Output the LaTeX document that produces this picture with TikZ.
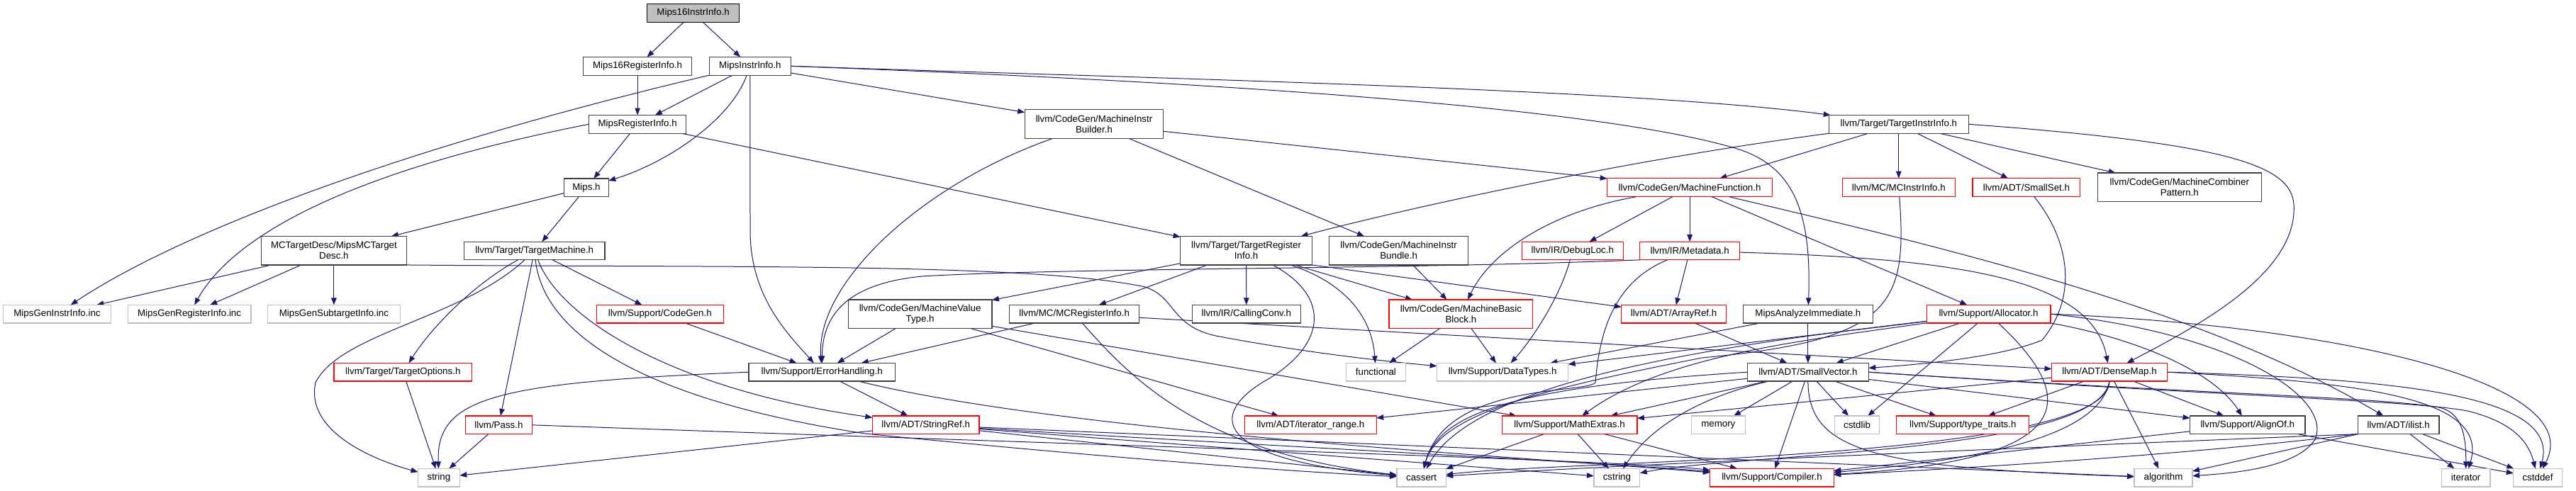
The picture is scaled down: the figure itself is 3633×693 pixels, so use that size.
\documentclass[tikz,border=0pt]{standalone}
\usepackage{fontspec}
\setmainfont{Liberation Sans}
\usetikzlibrary{arrows.meta}
\pgfdeclarelayer{edgelayer}
\pgfsetlayers{edgelayer,main}
\definecolor{edgec}{HTML}{191970}
\definecolor{greyb}{HTML}{BFBFBF}
\definecolor{redb}{HTML}{FF0000}
\definecolor{darkb}{HTML}{404040}
\newcommand{\nodefont}{\fontsize{13.33pt}{15pt}\selectfont}
\tikzset{
  nbox/.style={rectangle, draw=darkb, line width=1.2pt, fill=white, inner sep=0pt, outer sep=0pt,
     minimum height=25.6pt, font=\nodefont, align=center},
  rbox/.style={nbox, draw=redb},
  gbox/.style={nbox, draw=greyb},
  twoline/.style={minimum height=40.5pt},
  dep/.style={draw=edgec, line width=1pt, line join=round, -{Triangle[length=10pt,width=7.5pt]}}
}
\begin{document}
\begin{tikzpicture}[x=1pt,y=-1pt]
\useasboundingbox (0,0) rectangle (3633,693);
% ---------- nodes ----------
\node[nbox,fill=greyb,draw=black,minimum width=130.5pt] (root) at (977.6,18.5) {Mips16InstrInfo.h};
\node[nbox,minimum width=153pt] (m16ri) at (899.1,93.3) {Mips16RegisterInfo.h};
\node[nbox,minimum width=114.7pt] (mii) at (1057.9,93.3) {MipsInstrInfo.h};
\node[nbox,minimum width=137pt] (mri) at (899.1,175.3) {MipsRegisterInfo.h};
\node[nbox,twoline,minimum width=195.7pt] (mib) at (1543,175) {llvm/CodeGen/MachineInstr\\Builder.h};
\node[nbox,minimum width=197.3pt] (tii) at (2677.8,175.3) {llvm/Target/TargetInstrInfo.h};
\node[nbox,minimum width=62.5pt] (mips) at (827,264.7) {Mips.h};
\node[rbox,minimum width=233pt] (mf) at (2383.1,264.5) {llvm/CodeGen/MachineFunction.h};
\node[rbox,minimum width=158.6pt] (mcii) at (2677.8,264.5) {llvm/MC/MCInstrInfo.h};
\node[rbox,minimum width=151.8pt] (sset) at (2857.9,264.5) {llvm/ADT/SmallSet.h};
\node[nbox,twoline,minimum width=231pt] (mcp) at (3073.8,264.3) {llvm/CodeGen/MachineCombiner\\Pattern.h};
\node[nbox,twoline,minimum width=204.8pt] (mcd) at (470.9,353.7) {MCTargetDesc/MipsMCTarget\\Desc.h};
\node[nbox,minimum width=198.5pt] (tm) at (753.8,354) {llvm/Target/TargetMachine.h};
\node[nbox,twoline,minimum width=186pt] (tri) at (1757.6,353.7) {llvm/Target/TargetRegister\\Info.h};
\node[nbox,twoline,minimum width=196.5pt] (mibun) at (1972.6,353.7) {llvm/CodeGen/MachineInstr\\Bundle.h};
\node[rbox,minimum width=142.7pt] (dl) at (2217.8,354) {llvm/IR/DebugLoc.h};
\node[rbox,minimum width=140.6pt] (md) at (2383.1,354) {llvm/IR/Metadata.h};
\node[gbox,minimum width=151.5pt] (geni) at (80.5,443.2) {MipsGenInstrInfo.inc};
\node[gbox,minimum width=173.6pt] (genr) at (267.1,443.2) {MipsGenRegisterInfo.inc};
\node[gbox,minimum width=186.6pt] (gens) at (470.9,443.2) {MipsGenSubtargetInfo.inc};
\node[rbox,minimum width=179pt] (cg) at (930.8,443.2) {llvm/Support/CodeGen.h};
\node[nbox,twoline,minimum width=202.6pt] (mvt) at (1297.6,443.2) {llvm/CodeGen/MachineValue\\Type.h};
\node[nbox,minimum width=182.7pt] (mcri) at (1515.2,443.2) {llvm/MC/MCRegisterInfo.h};
\node[nbox,minimum width=153.2pt] (cc) at (1757.8,443.2) {llvm/IR/CallingConv.h};
\node[rbox,twoline,minimum width=202.8pt] (mbb) at (2060.4,443.2) {llvm/CodeGen/MachineBasic\\Block.h};
\node[rbox,minimum width=147.7pt] (ar) at (2360.5,443.2) {llvm/ADT/ArrayRef.h};
\node[nbox,minimum width=182.7pt] (mai) at (2549.9,443.2) {MipsAnalyzeImmediate.h};
\node[rbox,minimum width=174.8pt] (alloc) at (2804.5,443.2) {llvm/Support/Allocator.h};
\node[rbox,minimum width=194.7pt] (to) at (568.3,525.2) {llvm/Target/TargetOptions.h};
\node[nbox,minimum width=206.6pt] (eh) at (1159.2,525.2) {llvm/Support/ErrorHandling.h};
\node[gbox,minimum width=83.8pt] (func) at (1940.4,525.2) {functional};
\node[gbox,minimum width=185pt] (dt) at (2119.1,525.2) {llvm/Support/DataTypes.h};
\node[nbox,minimum width=170.8pt] (sv) at (2549.9,525.2) {llvm/ADT/SmallVector.h};
\node[rbox,minimum width=163pt] (dm) at (2975,525.2) {llvm/ADT/DenseMap.h};
\node[rbox,minimum width=93.8pt] (pass) at (703.4,599.8) {llvm/Pass.h};
\node[rbox,minimum width=150.7pt] (sr) at (1305.7,599.8) {llvm/ADT/StringRef.h};
\node[rbox,minimum width=185.7pt] (ir) at (1848.4,599.8) {llvm/ADT/iterator\_range.h};
\node[rbox,minimum width=190.6pt] (mx) at (2213.6,599.8) {llvm/Support/MathExtras.h};
\node[gbox,minimum width=76.1pt] (mem) at (2423.3,599.8) {memory};
\node[gbox,minimum width=62.5pt] (cstdlib) at (2619,599.8) {cstdlib};
\node[rbox,minimum width=187pt] (tt) at (2768.3,599.8) {llvm/Support/type\_traits.h};
\node[nbox,minimum width=162.5pt] (ao) at (3169.8,599.8) {llvm/Support/AlignOf.h};
\node[nbox,minimum width=114.6pt] (il) at (3382.7,599.8) {llvm/ADT/ilist.h};
\node[gbox,minimum width=58.7pt] (str) at (618.9,674.2) {string};
\node[gbox,minimum width=69.2pt] (ca) at (2004.6,674.2) {cassert};
\node[gbox,minimum width=64.8pt] (cs) at (2280.4,674.2) {cstring};
\node[rbox,minimum width=174.3pt] (comp) at (2499,674.2) {llvm/Support/Compiler.h};
\node[gbox,minimum width=82pt] (alg) at (3051,674.2) {algorithm};
\node[gbox,minimum width=68.8pt] (iter) at (3477.6,674.2) {iterator};
\node[gbox,minimum width=68.4pt] (cdef) at (3579,674.2) {cstddef};
% ---------- edges ----------
\begin{pgfonlayer}{edgelayer}
\draw[dep] (root) -- (m16ri);
\draw[dep] (root) -- (mii);
\draw[dep] (m16ri) -- (mri);
\draw[dep] (mii) -- (mri);
\draw[dep] (mii) .. controls (1030,170) and (940,230) .. (mips);
\draw[dep] (mii.south west) .. controls (560,210) and (250,330) .. (geni);
\draw[dep] (mii.south) -- (1058,330) .. controls (1060,420) and (1110,470) .. (eh);
\draw[dep] (mii) -- (mib);
\draw[dep] (mii.east) .. controls (1600,110) and (2300,125) .. (tii);
\draw[dep] (mii.east) .. controls (1700,115) and (2250,150) .. (2450,210) .. controls (2530,235) and (2555,300) .. (mai);
\draw[dep] (mri) -- (mips);
\draw[dep] (mri.west) .. controls (500,240) and (330,330) .. (genr);
\draw[dep] (mri) -- (tri);
\draw[dep] (mips) -- (mcd);
\draw[dep] (mips) -- (tm);
\draw[dep] (mcd) -- (geni);
\draw[dep] (mcd) -- (genr);
\draw[dep] (mcd) -- (gens);
\draw[dep] (mcd.south east) .. controls (1000,378) and (1450,370) .. (1615,405) .. controls (1660,420) and (1650,462) .. (1720,475) .. controls (1800,490) and (1900,505) .. (dt);
\draw[dep] (tm) .. controls (670,400) and (610,460) .. (to);
\draw[dep] (tm) .. controls (650,450) and (480,470) .. (445,540) .. controls (430,610) and (530,650) .. (str);
\draw[dep] (tm) -- (pass);
\draw[dep] (tm) .. controls (765,460) and (880,560) .. (1220,612) .. controls (1500,640) and (1800,665) .. (ca);
\draw[dep] (tm) .. controls (790,450) and (950,550) .. (sr);
\draw[dep] (tm) -- (cg);
\draw[dep] (to) -- (str);
\draw[dep] (pass) -- (str);
\draw[dep] (pass.east) .. controls (1600,630) and (2300,650) .. (comp);
\draw[dep] (cg) -- (eh);
\draw[dep] (eh.west) .. controls (700,540) and (615,560) .. (str);
\draw[dep] (eh) -- (sr);
\draw[dep] (eh) .. controls (1500,610) and (2150,645) .. (comp);
\draw[dep] (sr) -- (str);
\draw[dep] (sr) -- (ca);
\draw[dep] (sr) -- (cs);
\draw[dep] (sr) .. controls (1800,630) and (2300,655) .. (comp);
\draw[dep] (sr) -- (alg);
\draw[dep] (mib) -- (mf);
\draw[dep] (mib) -- (mibun);
\draw[dep] (mib) .. controls (1300,260) and (1150,400) .. (eh);
\draw[dep] (tii) .. controls (2300,225) and (2000,290) .. (tri);
\draw[dep] (tii) -- (mf);
\draw[dep] (tii) -- (mcii);
\draw[dep] (tii) -- (sset);
\draw[dep] (tii) -- (mcp);
\draw[dep] (tii.east) .. controls (3180,205) and (3240,240) .. (3235,300) .. controls (3230,390) and (3100,460) .. (dm);
\draw[dep] (tri) -- (mvt);
\draw[dep] (tri) -- (mcri);
\draw[dep] (tri) -- (cc);
\draw[dep] (tri) .. controls (1900,400) and (1935,450) .. (func);
\draw[dep] (tri) .. controls (1880,420) and (1870,490) .. (1780,540) .. controls (1700,590) and (1720,650) .. (ca);
\draw[dep] (tri.south east) -- (ar);
\draw[dep] (tri) -- (mbb);
\draw[dep] (mvt) -- (eh);
\draw[dep] (mvt) -- (mx);
\draw[dep] (mvt) -- (ir);
\draw[dep] (mcri) -- (eh);
\draw[dep] (mcri) .. controls (1600,540) and (1700,640) .. (ca);
\draw[dep] (mcri) -- (dm);
\draw[dep] (mibun) -- (mbb);
\draw[dep] (mf) -- (dl);
\draw[dep] (mf) -- (md);
\draw[dep] (mf) .. controls (2180,300) and (2100,360) .. (mbb);
\draw[dep] (mf) -- (alloc);
\draw[dep] (mf) .. controls (2700,340) and (3100,430) .. (il);
\draw[dep] (dl) .. controls (2200,420) and (2160,480) .. (dt);
\draw[dep] (md) -- (ar);
\draw[dep] (md.south west) .. controls (2000,380) and (1500,378) .. (1300,390) .. controls (1200,400) and (1160,440) .. (eh);
\draw[dep] (md) .. controls (2750,365) and (2950,390) .. (dm);
\draw[dep] (md) .. controls (2270,400) and (2255,480) .. (2250,540) .. controls (2235,556) and (2040,540) .. (ca);
\draw[dep] (ar) -- (sv);
\draw[dep] (mai) -- (dt);
\draw[dep] (mai) -- (sv);
\draw[dep] (alloc) -- (sv);
\draw[dep] (alloc) -- (cstdlib);
\draw[dep] (alloc) -- (dt);
\draw[dep] (alloc) .. controls (2550,480) and (2350,500) .. (mx);
\draw[dep] (alloc) .. controls (2400,490) and (2080,540) .. (ca);
\draw[dep] (alloc) .. controls (2930,560) and (2940,650) .. (comp);
\draw[dep] (alloc.south east) .. controls (3000,475) and (3120,520) .. (ao);
\draw[dep] (alloc.east) .. controls (3150,470) and (3290,560) .. (3265,620) .. controls (3240,660) and (3150,668) .. (alg);
\draw[dep] (alloc.east) .. controls (3300,460) and (3650,540) .. (cdef);
\draw[dep] (sset) .. controls (2920,340) and (2930,420) .. (2880,480) .. controls (2820,505) and (2700,515) .. (sv);
\draw[dep] (mcii) .. controls (2690,430) and (2670,480) .. (2400,505) .. controls (2200,545) and (2030,580) .. (ca);
\draw[dep] (mbb) -- (func);
\draw[dep] (mbb) -- (dt);
\draw[dep] (sv) -- (ir);
\draw[dep] (sv) -- (mx);
\draw[dep] (sv.west) .. controls (2150,545) and (2030,580) .. (ca);
\draw[dep] (sv) .. controls (2400,560) and (2330,600) .. (cs);
\draw[dep] (sv) -- (mem);
\draw[dep] (sv) -- (cstdlib);
\draw[dep] (sv) -- (tt);
\draw[dep] (sv) -- (comp);
\draw[dep] (sv.south) .. controls (2550,640) and (2650,660) .. (alg);
\draw[dep] (sv) -- (ao);
\draw[dep] (sv.east) .. controls (3100,556) and (3350,560) .. (3440,575) .. controls (3470,582) and (3478,610) .. (iter);
\draw[dep] (sv.east) .. controls (3150,560) and (3400,565) .. (3480,580) .. controls (3540,595) and (3565,620) .. (cdef);
\draw[dep] (dm) -- (mx);
\draw[dep] (dm) -- (tt);
\draw[dep] (dm.south) .. controls (2960,620) and (2780,650) .. (comp);
\draw[dep] (dm.south) .. controls (2975,650) and (2200,650) .. (ca);
\draw[dep] (dm.south) .. controls (2960,640) and (2450,640) .. (cs);
\draw[dep] (dm) -- (alg);
\draw[dep] (dm.east) .. controls (3350,540) and (3510,565) .. (iter);
\draw[dep] (dm.east) .. controls (3400,535) and (3610,560) .. (cdef);
\draw[dep] (dm) -- (ao);
\draw[dep] (mx) -- (ca);
\draw[dep] (mx) -- (cs);
\draw[dep] (mx) -- (comp);
\draw[dep] (il) -- (iter);
\draw[dep] (il) -- (cdef);
\draw[dep] (il) -- (alg);
\draw[dep] (il.south west) .. controls (2900,630) and (2300,655) .. (ca);
\draw[dep] (il.south west) .. controls (3100,640) and (2800,660) .. (comp);
\draw[dep] (ao) -- (comp);
\draw[dep] (ao) -- (cdef);
\end{pgfonlayer}
\end{tikzpicture}
\end{document}
